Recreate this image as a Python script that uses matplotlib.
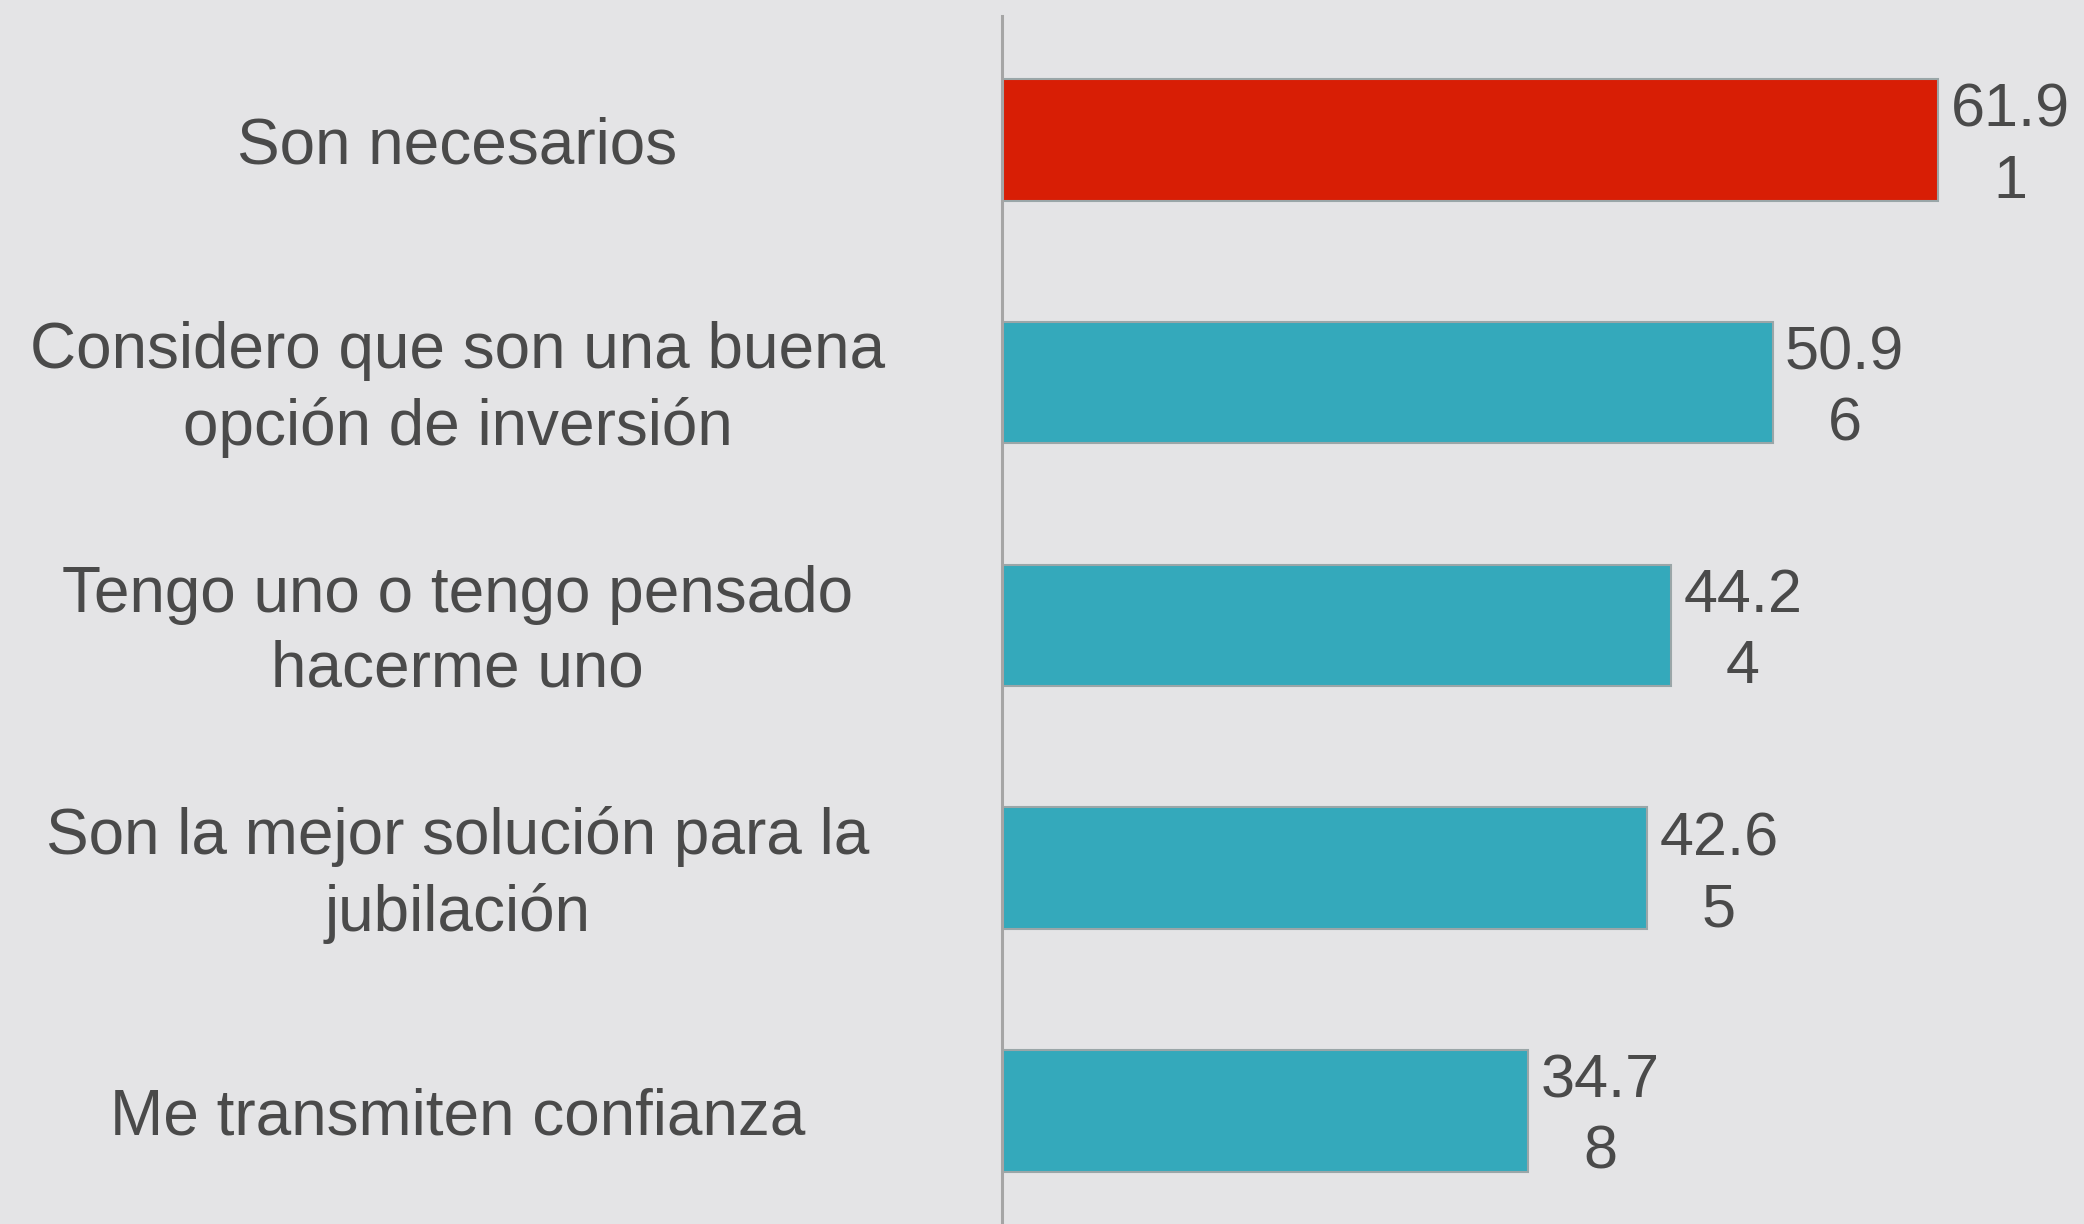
import matplotlib.pyplot as plt
import matplotlib.transforms as mtransforms

# data
labels = [
    "Son necesarios",
    "Considero que son una buena\nopción de inversión",
    "Tengo uno o tengo pensado\nhacerme uno",
    "Son la mejor solución para la\njubilación",
    "Me transmiten confianza",
]
values = [61.91, 50.96, 44.24, 42.65, 34.78]
colors = ["#d81e05", "#34a9bb", "#34a9bb", "#34a9bb", "#34a9bb"]

bg = "#e4e4e6"
txt = "#4a4a4a"
plt.rcParams['font.family'] = ['Liberation Sans', 'DejaVu Sans']

fig = plt.figure(figsize=(20.84, 12.24), dpi=100, facecolor=bg)
ax = fig.add_axes([0.4808, 0.0, 0.5192, 0.987])
ax.set_facecolor(bg)

pos = range(len(values))
ax.barh(pos, values, height=0.5, color=colors, edgecolor="#9aa6a8", linewidth=1.5)

ax.set_xlim(0, 71.56)
ax.set_ylim(4.466, -0.511)

for s in ["top", "right", "bottom"]:
    ax.spines[s].set_visible(False)
ax.spines["left"].set_color("#a5a5a5")
ax.spines["left"].set_linewidth(2.2)
ax.set_xticks([])
ax.set_yticks([])

# value labels wrapped like the original ("61.9" / "1")
for i, v in enumerate(values):
    s = f"{v:.2f}"
    ax.annotate(s[:4] + "\n" + s[4:], (v, i), xytext=(9, -5), textcoords="offset points",
                ha="left", va="center", multialignment="center",
                fontsize=44, color=txt, linespacing=1.32)

# category labels centred in the left margin
trans = mtransforms.blended_transform_factory(fig.transFigure, ax.transData)
for i, lab in enumerate(labels):
    ax.annotate(lab, (0.2195, i), xycoords=trans, xytext=(0, -5), textcoords="offset points",
                ha="center", va="center", multialignment="center",
                fontsize=46, color=txt, linespacing=1.32)

plt.savefig("out.png", dpi=100, facecolor=bg)
